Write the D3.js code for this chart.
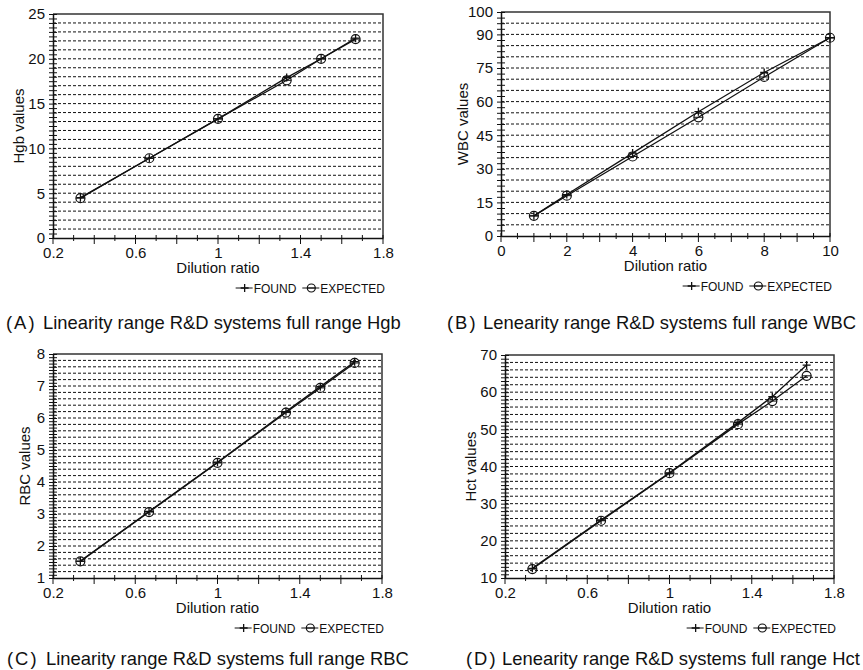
<!DOCTYPE html>
<html>
<head>
<meta charset="utf-8">
<script src="https://cdn.jsdelivr.net/npm/d3@7"></script>
<style>
  body { margin: 0; background: #fff; }
  svg text { font-family: "Liberation Sans", Arial, sans-serif; fill: #111; }
</style>
</head>
<body>
<svg id="chart" width="863" height="670"></svg>
<script>
// dilution ratios
const ratioThirds = [0.333, 0.667, 1, 1.333, 1.5, 1.667];
const wbcRatio = [1, 2, 4, 6, 8, 10];

// series values
const hgbFound = [4.5, 8.9, 13.3, 17.9, 20.0, 22.3];
const hgbExpected = [4.45, 8.9, 13.3, 17.6, 20.0, 22.2];
const wbcFound = [9, 18.5, 37, 55.5, 73, 88.5];
const wbcExpected = [9, 18, 35.5, 53, 71, 88.5];
const rbcFound = [1.53, 3.08, 4.62, 6.2, 6.98, 7.76];
const rbcExpected = [1.52, 3.06, 4.6, 6.17, 6.94, 7.72];
const hctFound = [12.6, 25.6, 38.3, 51.8, 58.8, 67.3];
const hctExpected = [12.4, 25.4, 38.2, 51.4, 57.6, 64.4];

// tick labels
const ratioTicks = [0.2, 0.6, 1, 1.4, 1.8];
const wbcRatioTicks = [0, 2, 4, 6, 8, 10];
const hgbTicks = [0, 5, 10, 15, 20, 25];
const wbcTicks = [0, 15, 30, 45, 60, 75, 90, 100];
const rbcTicks = [1, 2, 3, 4, 5, 6, 7, 8];
const hctTicks = [10, 20, 30, 40, 50, 60, 70];

const svg = d3.select("#chart");

const panels = [
  { left: 53, right: 383, top: 14, bottom: 238, xDom: [0.2, 1.8], yDom: [0, 25],
    xs: ratioThirds, found: hgbFound, expected: hgbExpected,
    xTicks: ratioTicks, yTicks: hgbTicks, xMinor: 0.1, xMajor: 0.2, yGrid: 1, yMinor: 0.5,
    yTitle: "Hgb values", yTitleX: 19, parenX: 6, capX: 43, capY: 329,
    tag: "(A)", caption: "Linearity range R&D systems full range Hgb" },
  { left: 501, right: 830, top: 12, bottom: 236, xDom: [0, 10], yDom: [0, 100],
    xs: wbcRatio, found: wbcFound, expected: wbcExpected,
    xTicks: wbcRatioTicks, yTicks: wbcTicks, xMinor: 0.5, xMajor: 1, yGrid: 5, yMinor: 2.5,
    yTitle: "WBC values", yTitleX: 463, parenX: 447, capX: 483, capY: 329,
    tag: "(B)", caption: "Lenearity range R&D systems full range WBC" },
  { left: 53, right: 382, top: 354, bottom: 578, xDom: [0.2, 1.8], yDom: [1, 8],
    xs: ratioThirds, found: rbcFound, expected: rbcExpected,
    xTicks: ratioTicks, yTicks: rbcTicks, xMinor: 0.1, xMajor: 0.2, yGrid: 0.2, yMinor: 0.1,
    yTitle: "RBC values", yTitleX: 25, parenX: 7, capX: 46, capY: 665,
    tag: "(C)", caption: "Linearity range R&D systems full range RBC" },
  { left: 505, right: 834, top: 355, bottom: 578, xDom: [0.2, 1.8], yDom: [10, 70],
    xs: ratioThirds, found: hctFound, expected: hctExpected,
    xTicks: ratioTicks, yTicks: hctTicks, xMinor: 0.1, xMajor: 0.2, yGrid: 2, yMinor: 1,
    yTitle: "Hct values", yTitleX: 471, parenX: 466, capX: 502, capY: 665,
    tag: "(D)", caption: "Lenearity range R&D systems full range Hct" }
];

function steps(dom, step) {
  const n = Math.round((dom[1] - dom[0]) / step);
  return d3.range(n + 1).map(i => +(dom[0] + i * step).toFixed(4));
}

function plus(g, x, y, s) {
  g.append("path").attr("d", `M${x - s},${y}H${x + s}M${x},${y - s}V${y + s}`)
    .attr("stroke", "#111").attr("stroke-width", 1.3).attr("fill", "none");
}
function circ(g, x, y, r) {
  g.append("circle").attr("cx", x).attr("cy", y).attr("r", r)
    .attr("fill", "none").attr("stroke", "#111").attr("stroke-width", 1.2);
  g.append("path").attr("d", `M${x - r},${y}H${x + r}`)
    .attr("stroke", "#111").attr("stroke-width", 1);
}

panels.forEach(p => {
  const x = d3.scaleLinear().domain(p.xDom).range([p.left, p.right]);
  const y = d3.scaleLinear().domain(p.yDom).range([p.bottom, p.top]);
  const g = svg.append("g");

  // dashed horizontal grid
  g.append("g").selectAll("line")
    .data(steps(p.yDom, p.yGrid).filter(v => v > p.yDom[0] && v < p.yDom[1]))
    .join("line")
    .attr("x1", p.left).attr("x2", p.right)
    .attr("y1", d => y(d)).attr("y2", d => y(d))
    .attr("stroke", "#111").attr("stroke-width", 1)
    .attr("stroke-dasharray", "3,2");

  // frame
  g.append("path")
    .attr("d", `M${p.left},${p.top}H${p.right}V${p.bottom}`)
    .attr("fill", "none").attr("stroke", "#333").attr("stroke-width", 1.5);

  // minor y ticks crossing the axis
  g.append("g").attr("transform", `translate(${p.left + 4},0)`)
    .call(d3.axisLeft(y).tickValues(steps(p.yDom, p.yMinor)).tickSize(8).tickFormat(""))
    .call(a => a.select(".domain").remove())
    .selectAll("line").attr("stroke", "#111");

  // y labels
  g.append("g").attr("transform", `translate(${p.left},0)`)
    .call(d3.axisLeft(y).tickValues(p.yTicks).tickSize(0).tickPadding(8).tickFormat(d3.format("")))
    .call(a => a.select(".domain").attr("stroke", "#111").attr("stroke-width", 1.5))
    .selectAll("text").attr("font-size", 15);

  // x ticks: minor crossing, major longer
  const xAll = steps(p.xDom, p.xMinor);
  g.append("g").selectAll("line").data(xAll).join("line")
    .attr("x1", d => x(d)).attr("x2", d => x(d))
    .attr("y1", p.bottom - 3)
    .attr("y2", d => Math.abs(Math.round((d - p.xDom[0]) / p.xMajor) * p.xMajor - (d - p.xDom[0])) < 1e-6 ? p.bottom + 6 : p.bottom + 3)
    .attr("stroke", "#111").attr("stroke-width", 1);

  // x labels
  g.append("g").attr("transform", `translate(0,${p.bottom})`)
    .call(d3.axisBottom(x).tickValues(p.xTicks).tickSize(0).tickPadding(9).tickFormat(d3.format("")))
    .call(a => a.select(".domain").attr("stroke", "#111").attr("stroke-width", 1.5))
    .selectAll("text").attr("font-size", 15);

  // axis titles
  g.append("text").attr("x", (p.left + p.right) / 2).attr("y", p.bottom + 35)
    .attr("text-anchor", "middle").attr("font-size", 15).text("Dilution ratio");
  g.append("text")
    .attr("transform", `translate(${p.yTitleX},${(p.top + p.bottom) / 2}) rotate(-90)`)
    .attr("text-anchor", "middle").attr("dy", "0.35em").attr("font-size", 15).text(p.yTitle);

  // lines
  const line = d3.line().x(d => x(d[0])).y(d => y(d[1]));
  const foundPts = p.xs.map((v, i) => [v, p.found[i]]);
  const expPts = p.xs.map((v, i) => [v, p.expected[i]]);
  g.append("path").attr("d", line(expPts)).attr("fill", "none").attr("stroke", "#111").attr("stroke-width", 1.3);
  g.append("path").attr("d", line(foundPts)).attr("fill", "none").attr("stroke", "#111").attr("stroke-width", 1.3);
  expPts.forEach(d => circ(g, x(d[0]), y(d[1]), 4.5));
  foundPts.forEach(d => plus(g, x(d[0]), y(d[1]), 4));

  // legend
  const ly = p.bottom + 50;
  const lg = g.append("g");
  const t2 = lg.append("text").attr("x", p.right + 2).attr("y", ly + 4.5)
    .attr("text-anchor", "end").attr("font-size", 12).text("EXPECTED");
  const w2 = t2.node().getComputedTextLength();
  const m2 = p.right + 2 - w2 - 9;
  lg.append("path").attr("d", `M${m2 - 9},${ly}H${m2 + 8}`).attr("stroke", "#111").attr("stroke-width", 1);
  circ(lg, m2, ly, 4);
  const t1x = m2 - 15;
  const t1 = lg.append("text").attr("x", t1x).attr("y", ly + 4.5)
    .attr("text-anchor", "end").attr("font-size", 12).text("FOUND");
  const w1 = t1.node().getComputedTextLength();
  const m1 = t1x - w1 - 9;
  lg.append("path").attr("d", `M${m1 - 9},${ly}H${m1 + 8}`).attr("stroke", "#111").attr("stroke-width", 1);
  plus(lg, m1, ly, 4);

  // caption
  g.append("text").attr("x", p.parenX).attr("y", p.capY)
    .attr("font-size", 18.4).attr("letter-spacing", 2).text(p.tag);
  g.append("text").attr("x", p.capX).attr("y", p.capY)
    .attr("font-size", 18.4).text(p.caption);
});
</script>
</body>
</html>
